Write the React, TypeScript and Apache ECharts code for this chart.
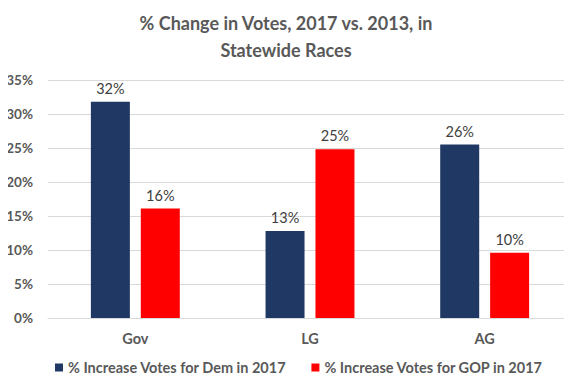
import React, { useEffect, useRef } from "react";
import * as echarts from "echarts";

const categories = ["Gov", "LG", "AG"];
const demValues = [31.8, 12.8, 25.5];
const gopValues = [16.1, 24.8, 9.6];
const yTicks = [0, 5, 10, 15, 20, 25, 30, 35];
const seriesNames = ["% Increase Votes for Dem in 2017", "% Increase Votes for GOP in 2017"];

const FONT = "Lato, 'Open Sans', sans-serif";
const GRAY = "#595959";

export default function App() {
  const ref = useRef<HTMLDivElement>(null);
  useEffect(() => {
    if (!ref.current) return;
    const chart = echarts.init(ref.current, undefined, { renderer: "svg" });
    const labelCfg = {
      show: true,
      position: "top" as const,
      distance: 6,
      color: "#404040",
      fontSize: 14.5,
      fontFamily: FONT,
      formatter: (p: any) => Math.round(p.value) + "%",
    };
    chart.setOption({
      animation: false,
      textStyle: { fontFamily: FONT },
      title: {
        text: "% Change in Votes, 2017 vs. 2013, in\nStatewide Races",
        left: "center",
        top: 4,
        textStyle: { fontSize: 18, fontWeight: "bold", color: GRAY, lineHeight: 27, fontFamily: FONT },
      },
      legend: {
        data: seriesNames,
        bottom: 10,
        left: 50,
        itemWidth: 8,
        itemHeight: 8,
        itemGap: 25,
        icon: "rect",
        textStyle: { fontSize: 14.5, fontWeight: "bold", color: GRAY, fontFamily: FONT },
      },
      grid: { left: 48, right: -4, top: 80, bottom: 72 },
      xAxis: {
        type: "category",
        data: categories,
        axisLine: { lineStyle: { color: "#d9d9d9" } },
        axisTick: { show: false },
        axisLabel: { fontSize: 14.5, fontWeight: "bold", color: GRAY, margin: 13, fontFamily: FONT },
      },
      yAxis: {
        type: "value",
        min: yTicks[0],
        max: yTicks[yTicks.length - 1],
        interval: 5,
        axisLine: { show: false },
        axisTick: { show: false },
        splitLine: { lineStyle: { color: "#d9d9d9" } },
        axisLabel: { fontSize: 13.5, fontWeight: "bold", color: GRAY, margin: 15, formatter: "{value}%", fontFamily: FONT },
      },
      series: [
        {
          name: seriesNames[0],
          type: "bar",
          data: demValues,
          barWidth: 39,
          barGap: "28%",
          itemStyle: { color: "#203864" },
          label: labelCfg,
        },
        {
          name: seriesNames[1],
          type: "bar",
          data: gopValues,
          barWidth: 39,
          itemStyle: { color: "#FF0000" },
          label: labelCfg,
        },
      ],
    });
    return () => chart.dispose();
  }, []);
  return <div ref={ref} style={{ width: 572, height: 390, margin: -8 }} />;
}
